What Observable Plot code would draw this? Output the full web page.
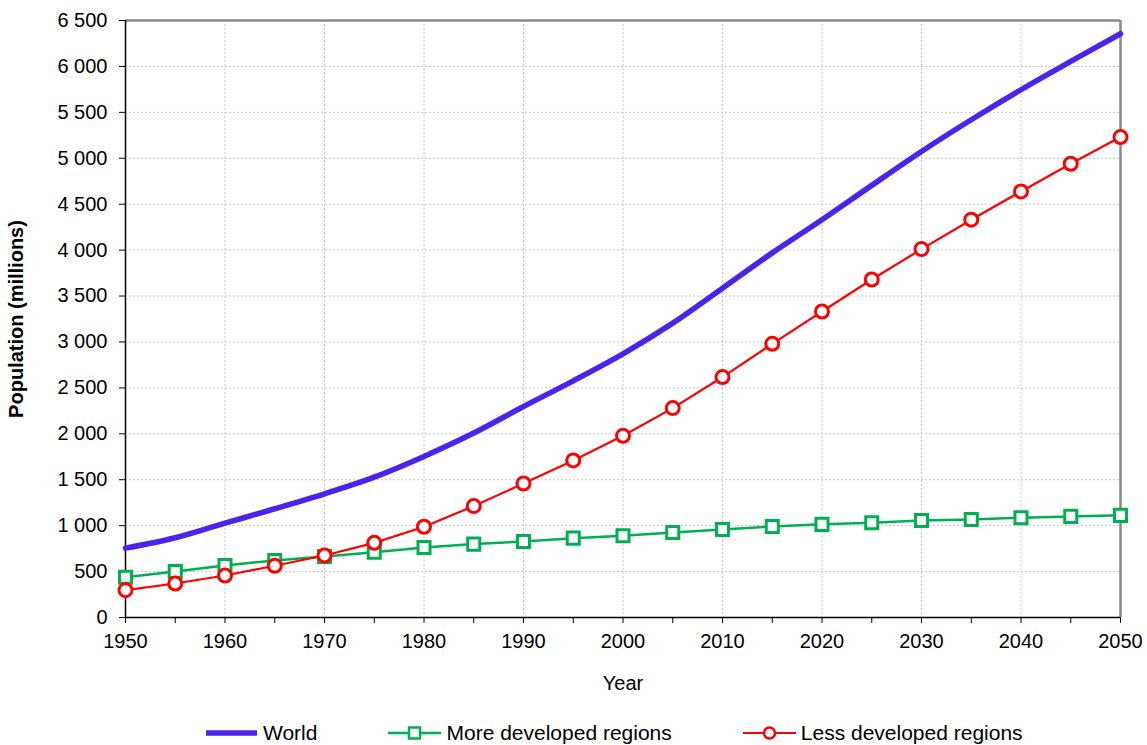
<!DOCTYPE html>
<html>
<head>
<meta charset="utf-8">
<script src="https://cdn.jsdelivr.net/npm/d3@7"></script>
<script src="https://cdn.jsdelivr.net/npm/@observablehq/plot@0.6"></script>
<style>
  html, body { margin: 0; padding: 0; background: #fff; }
  body { width: 1147px; height: 745px; overflow: hidden; font-family: "Liberation Sans", Arial, sans-serif; }
  g[aria-label="y-axis label"] text { font-weight: bold; }
  #legend { display: flex; align-items: center; padding-left: 205px; height: 30px; margin-top: 13px; font-size: 21px; color: #000; }
  #legend .item { display: flex; align-items: center; margin-right: 71px; }
  #legend svg { margin-right: 5px; }
</style>
</head>
<body>
<div id="chart"></div>
<div id="legend"></div>
<script>
const years = [1950,1955,1960,1965,1970,1975,1980,1985,1990,1995,2000,2005,2010,2015,2020,2025,2030,2035,2040,2045,2050];
const world = [755,868,1027,1184,1347,1528,1754,2008,2297,2577,2871,3205,3586,3970,4331,4705,5074,5419,5746,6054,6356];
const moreDeveloped = [439,501,566,621,665,711,763,799,828,864,890,926,958,991,1014,1032,1057,1068,1087,1101,1112];
const lessDeveloped = [298,370,457,563,675,813,988,1213,1459,1710,1978,2280,2618,2980,3332,3680,4011,4331,4639,4940,5231];
const yTicks = [0,500,1000,1500,2000,2500,3000,3500,4000,4500,5000,5500,6000,6500];
const xTicks = [1950,1960,1970,1980,1990,2000,2010,2020,2030,2040,2050];
const xMinor = [1950,1955,1960,1965,1970,1975,1980,1985,1990,1995,2000,2005,2010,2015,2020,2025,2030,2035,2040,2045,2050];
const seriesNames = ["World", "More developed regions", "Less developed regions"];
const colors = ["#4B22EE", "#00B050", "#FF0000"];

const mk = arr => years.map((y, i) => ({year: y, value: arr[i]}));
const dWorld = mk(world), dMore = mk(moreDeveloped), dLess = mk(lessDeveloped);

const fmt = d3.formatLocale({decimal: ",", thousands: "\u00a0", grouping: [3], currency: ["", ""]}).format(",d");

const chart = Plot.plot({
  width: 1147,
  height: 705,
  marginTop: 20,
  marginBottom: 88,
  marginLeft: 125,
  marginRight: 27,
  style: {fontFamily: "Liberation Sans, Arial, sans-serif", fontSize: "20px", color: "#000", background: "#fff"},
  x: {domain: [1950, 2050]},
  y: {domain: [0, 6500]},
  marks: [
    Plot.gridY(yTicks.filter(d => d > 0), {stroke: "#c8c8c8", strokeOpacity: 1, strokeDasharray: "2,2", strokeWidth: 1}),
    Plot.gridX(xTicks.filter(d => d > 1950 && d < 2050), {stroke: "#c8c8c8", strokeOpacity: 1, strokeDasharray: "2,2", strokeWidth: 1}),
    Plot.ruleY([6500], {stroke: "#888", strokeWidth: 2.5}),
    Plot.ruleX([2050], {stroke: "#888", strokeWidth: 2.5}),
    Plot.axisY({ticks: yTicks, tickSize: 6, tickPadding: 12, tickFormat: fmt, label: "Population (millions)", labelAnchor: "center", labelArrow: "none", labelOffset: 117, fontSize: 20}),
    Plot.axisX({ticks: xMinor, tickSize: 6, tickPadding: 10, tickFormat: d => d % 10 === 0 ? String(d) : "", label: "Year", labelAnchor: "center", labelArrow: "none", labelOffset: 72, fontSize: 20}),
    Plot.ruleX([1950], {stroke: "#000", strokeWidth: 1.5}),
    Plot.ruleY([0], {stroke: "#000", strokeWidth: 1.5}),
    Plot.line(dWorld, {x: "year", y: "value", stroke: colors[0], strokeWidth: 5.5, curve: "catmull-rom"}),
    Plot.line(dMore, {x: "year", y: "value", stroke: colors[1], strokeWidth: 2.5}),
    Plot.dot(dMore, {x: "year", y: "value", symbol: "square", r: 6.8, fill: "#fff", stroke: colors[1], strokeWidth: 3}),
    Plot.line(dLess, {x: "year", y: "value", stroke: colors[2], strokeWidth: 2.2}),
    Plot.dot(dLess, {x: "year", y: "value", symbol: "circle", r: 6.5, fill: "#fff", stroke: colors[2], strokeWidth: 3})
  ]
});
document.getElementById("chart").appendChild(chart);

// Legend
const legend = document.getElementById("legend");
seriesNames.forEach((name, i) => {
  const item = document.createElement("div");
  item.className = "item";
  let sw;
  if (i === 0) {
    sw = `<svg width="53" height="16"><line x1="1" y1="8" x2="52" y2="8" stroke="${colors[0]}" stroke-width="5.5"/></svg>`;
  } else if (i === 1) {
    sw = `<svg width="53" height="16"><line x1="0" y1="8" x2="53" y2="8" stroke="${colors[1]}" stroke-width="2.5"/><rect x="21" y="2.5" width="11" height="11" fill="#fff" stroke="${colors[1]}" stroke-width="2.5"/></svg>`;
  } else {
    sw = `<svg width="53" height="16"><line x1="0" y1="8" x2="53" y2="8" stroke="${colors[2]}" stroke-width="2.2"/><circle cx="26.5" cy="8" r="5.5" fill="#fff" stroke="${colors[2]}" stroke-width="2.5"/></svg>`;
  }
  item.innerHTML = sw + `<span>${name}</span>`;
  legend.appendChild(item);
});
</script>
</body>
</html>
